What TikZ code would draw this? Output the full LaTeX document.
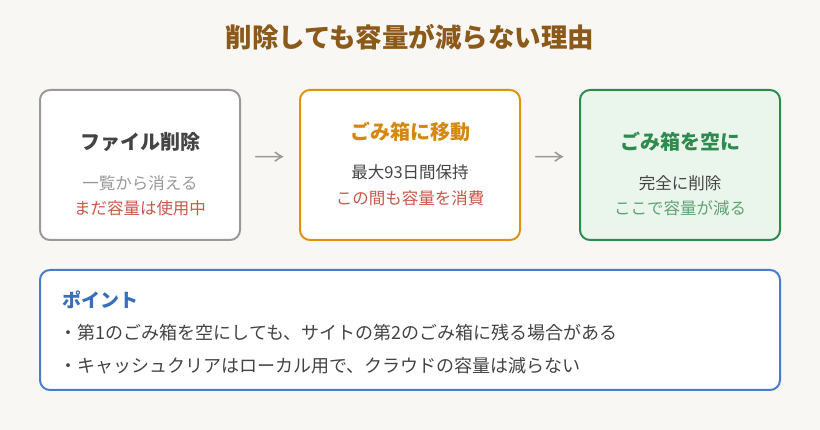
\documentclass[tikz,border=0pt]{standalone}
\usepackage{fontspec}
\setmainfont{Noto Sans CJK JP}
\definecolor{bg}{HTML}{F9F7F3}
\definecolor{ttl}{HTML}{8B5A1B}
\definecolor{g1}{HTML}{999999}
\definecolor{or}{HTML}{E0920F}
\definecolor{ort}{HTML}{D4880F}
\definecolor{gr}{HTML}{2E8B4E}
\definecolor{grf}{HTML}{EAF5EC}
\definecolor{grt}{HTML}{5FA374}
\definecolor{rd}{HTML}{C9574A}
\definecolor{bl}{HTML}{4A7CC9}
\definecolor{blt}{HTML}{3A6FB8}
\definecolor{tx}{HTML}{444444}
\begin{document}
\begin{tikzpicture}[x=1pt,y=-1pt,
  box/.style={draw,line width=2pt,rounded corners=10pt},
  hd/.style={font=\fontsize{20}{22}\selectfont\bfseries},
  bd/.style={font=\fontsize{16.5}{19}\selectfont},
  ar/.style={font=\fontsize{22}{24}\selectfont\addfontfeatures{FakeStretch=1.4},text=g1}]
\fill[bg] (0,0) rectangle (820,430);
\useasboundingbox (0,0) rectangle (820,430);
\node[font=\fontsize{26.5}{29}\selectfont\bfseries,text=ttl] (title) at (410,37) {削除しても容量が減らない理由};
\draw[box,g1,fill=white] (40,90) rectangle (240,240);
\node[hd,text=tx] (h1) at (140,142) {ファイル削除};
\node[bd,text=g1] (l11) at (140,183) {一覧から消える};
\node[bd,text=rd] (l12) at (140,208) {まだ容量は使用中};
\draw[box,or,fill=white] (300,90) rectangle (520,240);
\node[hd,text=ort] (h2) at (410,132) {ごみ箱に移動};
\node[bd,text=tx] (l21) at (410,172) {最大93日間保持};
\node[bd,text=rd] (l22) at (410,198) {この間も容量を消費};
\draw[box,gr,fill=grf] (580,90) rectangle (780,240);
\node[hd,text=gr] (h3) at (680,142) {ごみ箱を空に};
\node[bd,text=tx] (l31) at (680,183) {完全に削除};
\node[bd,text=grt] (l32) at (680,208) {ここで容量が減る};
\node[ar] (a1) at (270,159) {→};
\node[ar] (a2) at (550,159) {→};
\draw[box,bl,fill=white] (40,270) rectangle (780,390);
\node[anchor=west,font=\fontsize{19}{21}\selectfont\bfseries,text=blt] (pt) at (59,300) {ポイント};
\node[anchor=west,font=\fontsize{18}{21}\selectfont,text=tx] (p1) at (56,333) {・第1のごみ箱を空にしても、サイトの第2のごみ箱に残る場合がある};
\node[anchor=west,font=\fontsize{18}{21}\selectfont,text=tx] (p2) at (56,366) {・キャッシュクリアはローカル用で、クラウドの容量は減らない};
\end{tikzpicture}
\end{document}
